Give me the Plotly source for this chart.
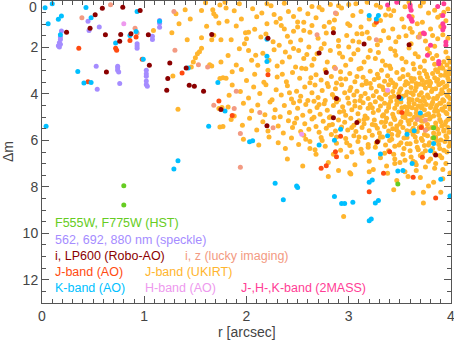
import plotly.graph_objects as go

# magnitude difference (Δm) of companions vs. separation r [arcsec]

hst_r = [0.80, 0.80, 3.48, 3.83, 3.83]
hst_dm = [7.95, 8.78, 7.88, 5.46, 5.89]

speckle_r = [0.19, 0.18, 0.18, 0.17, 0.18, 0.16, 0.17, 0.45, 0.46, 0.56, 0.53, 0.54, 0.76,
             0.74, 0.74, 0.74, 0.75, 0.93, 0.93, 0.93, 1.02, 1.02, 1.02, 1.02, 1.02, 1.03,
             1.08, 1.08, 1.15, 1.15, 1.15]
speckle_dm = [1.29, 1.55, 1.66, 1.80, 1.86, 1.93, 1.98, 0.87, 1.27, 1.12, 2.81, 3.80, 3.55,
              2.81, 2.88, 2.98, 3.06, 1.84, 1.94, 2.03, 2.98, 3.13, 3.24, 3.44, 3.59, 3.67,
              1.52, 1.66, 0.84, 0.96, 1.13]

robo_r = [0.24, 0.47, 0.52, 0.59, 0.79, 0.62, 0.77, 0.76, 0.87, 0.96, 0.63, 1.04, 1.05, 1.25,
          1.23, 1.22, 1.41, 1.44, 1.49, 1.58, 1.66, 1.75, 2.21, 2.85, 3.15, 2.71, 2.78, 3.59,
          2.88, 3.49, 2.85, 3.08, 2.20, 3.28, 3.85]
robo_dm = [1.34, 1.17, 0.59, 0.31, 0.27, 1.45, 1.44, 1.73, 1.41, 0.41, 3.06, 1.45, 2.77, 2.67,
           3.34, 3.84, 2.88, 3.63, 3.67, 3.88, 1.44, 4.67, 1.60, 1.37, 1.85, 2.24, 3.08, 1.88,
           4.20, 4.13, 5.03, 5.23, 5.37, 6.06, 6.63]

lucky_r = [0.39, 0.67, 0.91, 0.93, 1.29, 1.30, 1.53, 1.62, 1.68, 2.69, 2.87, 2.87, 3.27, 3.69,
           1.90, 1.88, 1.94, 2.13, 2.26, 3.67, 3.75, 3.75, 1.94]
lucky_dm = [0.72, 0.16, 1.17, 1.38, 0.45, 2.12, 2.74, 2.84, 4.49, 1.45, 0.52, 2.91, 1.67, 1.55,
            3.88, 4.63, 5.70, 4.80, 5.46, 5.10, 5.13, 5.56, 7.16]

jao_r = [0.36, 0.45, 0.72, 0.73, 0.86, 0.92, 0.98, 1.37, 1.73, 2.21, 1.86, 2.92, 2.87, 2.88,
         2.78, 2.73, 3.40, 3.72, 3.71, 3.52, 3.27, 3.34, 3.20, 3.63, 3.85]
jao_dm = [2.03, 3.48, 2.03, 2.12, 1.70, 1.55, 2.51, 3.10, 4.30, 3.17, 4.93, 5.82, 6.49, 6.70,
          7.09, 7.20, 6.49, 6.73, 5.44, 4.80, 0.91, 7.42, 8.21, 7.59, 8.48]

kao_r = [0.03, 0.10, 0.06, 0.19, 0.16, 0.18, 0.35, 0.41, 0.48, 0.43, 0.48, 0.04, 0.93, 0.92,
         0.86, 0.72, 0.99, 1.15, 1.43, 1.72, 1.63, 1.79, 1.33, 1.29, 2.28, 2.36, 2.49, 2.50,
         2.86, 2.93, 2.96, 3.04, 3.20, 3.23, 3.26, 3.29, 3.20, 3.22, 3.48, 3.90, 3.99, 3.53,
         3.20, 3.27, 3.29, 2.20, 2.20, 2.20, 3.51, 3.70, 2.92, 2.86, 2.71, 2.03, 2.06, 3.38,
         3.57, 3.64, 3.83, 3.80, 3.31, 3.62]
kao_dm = [0.29, 0.12, 0.98, 0.65, 0.79, 1.45, 3.03, 3.53, 3.51, 0.28, 0.72, 5.39, 0.45, 1.31,
          1.48, 1.81, 2.51, 0.87, 2.88, 3.51, 5.39, 4.74, 6.88, 7.23, 7.85, 8.56, 7.96, 8.03,
          8.42, 8.72, 8.72, 8.66, 7.80, 7.70, 8.69, 8.59, 9.46, 9.38, 7.32, 7.67, 8.39, 7.30,
          0.62, 0.77, 0.62, 1.65, 2.38, 2.60, 4.20, 4.82, 5.52, 5.99, 6.20, 6.06, 6.02, 5.80,
          5.74, 5.59, 6.13, 6.45, 6.59, 6.99]

hao_r = [0.80, 2.54, 3.38]
hao_dm = [0.98, 5.74, 3.84]

tmass_r = [3.38, 3.47, 3.60, 3.60, 3.61, 3.59, 3.61, 3.62, 3.87, 3.92, 3.92, 3.93, 3.92, 3.95,
           3.95, 3.74, 3.80, 3.77, 3.88, 3.88, 3.93, 3.73]
tmass_dm = [0.17, 0.05, 0.17, 0.27, 0.40, 0.66, 0.77, 0.87, 0.24, 0.62, 0.98, 1.12, 1.24, 1.77,
            1.91, 1.41, 1.91, 2.34, 2.60, 2.70, 0.12, 1.38]

# J-band (UKIRT): (r, dm), densest at large r
ukirt_pts = [
    (1.09, 1.27), (1.27, 1.37), (1.31, 0.55), (1.34, 0.98), (1.40, 0.38), (1.42, 1.67), (1.45, 0.77),
    (1.50, 2.44), (1.52, 2.27), (1.54, 2.18), (1.56, 2.03), (1.56, 1.58), (1.56, 0.41), (1.60, 0.08),
    (1.61, 1.09), (1.66, 1.67), (1.67, 0.38), (1.68, 0.55), (1.70, 0.66), (1.73, 0.95), (1.74, 0.17),
    (1.75, 1.67), (1.79, 0.05), (1.80, 0.30), (1.68, 1.47), (1.28, 3.23), (1.33, 4.66), (1.46, 2.84),
    (1.48, 2.63), (1.64, 2.74), (1.66, 2.80), (1.75, 2.63),
    (1.93, 0.12), (2.20, 0.12), (2.37, 0.10), (2.64, 0.24), (2.71, 0.27), (2.82, 0.15), (2.90, 0.20),
    (3.00, 0.15), (3.07, 0.12), (3.18, 0.05), (3.31, 0.27), (3.39, 0.34), (3.41, 0.62), (3.48, 0.02),
    (3.59, 0.05), (3.73, 0.05), (3.78, 0.52), (3.90, 0.62), (2.27, 0.58), (2.46, 0.67),
    (1.81, 0.87), (2.02, 1.34), (1.99, 1.37), (2.20, 0.98), (2.29, 0.91), (2.37, 1.20), (2.46, 1.30),
    (2.56, 0.91), (2.56, 1.27), (2.64, 1.05), (2.76, 1.10), (2.81, 0.91), (2.99, 0.98), (3.01, 1.05),
    (3.08, 1.41), (3.13, 1.41), (3.18, 1.34), (3.31, 0.84), (3.43, 1.20), (3.54, 1.12), (3.62, 1.34),
    (3.67, 0.98), (3.72, 0.91), (3.80, 1.20), (3.87, 0.70), (3.93, 0.48), (3.97, 0.34),
    (1.85, 1.67), (1.93, 2.06), (1.98, 1.84), (2.02, 2.13), (2.09, 2.34), (2.11, 2.77), (2.14, 1.55),
    (2.27, 2.10), (2.32, 1.91), (2.35, 2.63), (2.42, 2.41), (2.43, 1.77), (2.48, 2.84), (2.51, 2.13),
    (2.56, 2.48), (2.61, 1.98), (2.64, 2.77), (2.69, 2.27), (2.76, 1.84), (2.79, 2.63), (2.82, 2.13),
    (2.90, 1.70), (2.94, 2.41), (2.97, 2.77), (3.00, 1.98), (3.05, 2.27), (3.10, 1.77), (3.15, 2.63),
    (3.21, 2.13), (3.26, 2.48), (3.31, 1.70), (3.36, 2.77), (3.41, 2.06), (3.46, 2.34), (3.49, 1.55),
    (3.56, 2.63), (3.61, 1.84), (3.65, 2.27), (3.70, 2.84), (3.77, 2.06), (3.82, 2.48), (3.87, 1.63),
    (3.90, 2.77), (3.95, 2.20), (3.99, 2.63), (3.92, 1.45), (3.84, 1.95), (3.68, 1.55), (3.52, 0.78),
    (3.25, 1.02), (2.88, 0.55), (2.52, 0.35), (2.10, 0.68),
    (1.88, 0.42), (1.95, 0.78), (2.06, 0.33), (2.15, 0.52), (2.24, 0.20), (2.33, 0.75), (2.41, 0.45),
    (2.50, 0.90), (2.60, 0.55), (2.68, 0.72), (2.74, 0.38), (2.86, 0.82), (2.93, 0.30), (3.04, 0.62),
    (3.12, 0.45), (3.20, 0.78), (3.27, 0.18), (3.36, 0.60), (3.44, 0.42), (3.55, 0.25), (3.62, 0.68),
    (3.70, 0.22), (3.84, 0.40), (3.95, 0.85),
    (1.90, 1.08), (2.00, 1.62), (2.08, 1.22), (2.19, 1.42), (2.26, 1.75), (2.34, 1.05), (2.40, 1.52),
    (2.50, 1.12), (2.53, 1.68), (2.62, 1.35), (2.70, 1.60), (2.78, 1.38), (2.85, 1.18), (2.90, 1.95),
    (2.98, 1.48), (3.04, 1.72), (3.12, 1.12), (3.20, 1.60), (3.28, 1.88), (3.34, 1.28), (3.39, 1.58),
    (3.46, 1.75), (3.56, 1.50), (3.60, 1.18), (3.70, 1.42), (3.75, 1.72), (3.82, 1.48), (3.90, 1.10),
    (3.97, 1.60),
    (1.82, 2.35), (1.90, 2.75), (2.05, 2.55), (2.16, 2.25), (2.22, 2.55), (2.30, 2.80), (2.38, 2.20),
    (2.46, 2.05), (2.54, 2.90), (2.59, 2.30), (2.66, 2.50), (2.73, 2.05), (2.86, 2.85), (2.91, 2.25),
    (3.02, 2.52), (3.09, 2.10), (3.12, 2.90), (3.19, 2.42), (3.29, 2.22), (3.33, 2.58), (3.40, 2.80),
    (3.45, 2.15), (3.52, 2.48), (3.59, 2.02), (3.63, 2.70), (3.68, 2.40), (3.74, 2.58), (3.79, 2.25),
    (3.86, 2.35), (3.92, 2.90), (3.97, 2.45),
    (1.86, 3.05), (1.95, 2.95), (2.00, 3.42), (2.08, 3.15), (2.17, 3.50), (2.21, 2.98), (2.30, 3.27),
    (2.39, 3.48), (2.45, 3.08), (2.52, 3.33), (2.58, 2.92), (2.62, 3.52), (2.68, 3.18), (2.73, 3.40),
    (2.77, 2.96), (2.83, 3.25), (2.88, 3.53), (2.92, 3.05), (2.97, 3.36), (3.01, 3.12), (3.06, 3.48),
    (3.10, 2.93), (3.14, 3.28), (3.17, 3.55), (3.21, 3.02), (3.25, 3.38), (3.28, 3.15), (3.32, 2.98),
    (3.35, 3.45), (3.38, 3.22), (3.41, 2.91), (3.43, 3.52), (3.47, 3.08), (3.50, 3.35), (3.53, 2.95),
    (3.56, 3.48), (3.58, 3.18), (3.61, 3.32), (3.64, 2.93), (3.66, 3.55), (3.69, 3.10), (3.72, 3.42),
    (3.74, 3.00), (3.77, 3.28), (3.80, 3.52), (3.82, 3.12), (3.85, 2.96), (3.87, 3.38), (3.90, 3.20),
    (3.92, 3.50), (3.95, 3.05), (3.97, 3.33), (3.99, 2.92), (3.89, 2.88), (3.96, 2.75), (3.93, 2.62),
    (3.98, 3.15), (3.84, 2.72),
    (1.74, 3.34), (1.77, 3.30), (1.80, 3.32), (1.83, 4.06), (1.86, 3.62), (1.94, 3.90), (2.02, 4.18),
    (2.07, 3.70), (2.13, 3.98), (2.19, 3.60), (2.25, 4.25), (2.29, 3.82), (2.34, 4.05), (2.40, 3.65),
    (2.44, 4.22), (2.49, 3.88), (2.53, 4.10), (2.57, 3.70), (2.60, 4.28), (2.64, 3.95), (2.67, 3.62),
    (2.70, 4.15), (2.74, 3.85), (2.77, 4.28), (2.80, 3.68), (2.84, 4.02), (2.87, 3.78), (2.90, 4.25),
    (2.93, 3.60), (2.96, 3.95), (2.99, 4.18), (3.02, 3.72), (3.05, 4.05), (3.08, 3.88), (3.11, 4.28),
    (3.13, 3.62), (3.16, 3.98), (3.19, 4.20), (3.22, 3.75), (3.24, 4.08), (3.27, 3.90), (3.30, 3.65),
    (3.32, 4.22), (3.34, 3.82), (3.36, 4.02), (3.39, 3.60), (3.41, 4.15), (3.43, 3.90), (3.45, 3.70),
    (3.47, 4.28), (3.49, 3.98), (3.51, 3.78), (3.53, 4.10), (3.55, 3.62), (3.57, 3.92), (3.59, 4.22),
    (3.61, 3.72), (3.63, 4.02), (3.65, 3.85), (3.67, 4.25), (3.69, 3.58), (3.71, 3.95), (3.73, 4.15),
    (3.75, 3.75), (3.77, 4.05), (3.79, 3.65), (3.81, 3.90), (3.83, 4.20), (3.85, 3.78), (3.87, 4.10),
    (3.88, 3.60), (3.90, 3.98), (3.92, 4.25), (3.94, 3.70), (3.96, 4.05), (3.98, 3.85), (3.99, 4.20),
    (3.86, 3.45), (3.91, 3.82), (3.76, 3.50), (3.62, 3.45),
    (1.73, 4.63), (1.76, 4.58), (1.82, 4.56), (1.88, 4.95), (1.97, 4.40), (2.05, 4.72), (2.11, 4.48),
    (2.18, 4.90), (2.23, 4.35), (2.28, 4.68), (2.33, 4.98), (2.37, 4.50), (2.42, 4.80), (2.46, 4.38),
    (2.50, 4.62), (2.55, 4.92), (2.58, 4.45), (2.62, 4.75), (2.66, 4.32), (2.69, 4.58), (2.72, 4.88),
    (2.76, 4.42), (2.79, 4.70), (2.82, 4.98), (2.85, 4.50), (2.88, 4.35), (2.91, 4.78), (2.94, 4.55),
    (2.97, 4.92), (3.00, 4.40), (3.03, 4.68), (3.06, 4.32), (3.09, 4.85), (3.11, 4.58), (3.14, 4.38),
    (3.16, 4.95), (3.19, 4.62), (3.21, 4.45), (3.24, 4.80), (3.26, 4.34), (3.29, 4.70), (3.31, 4.52),
    (3.33, 4.95), (3.35, 4.40), (3.37, 4.75), (3.39, 4.58), (3.41, 4.32), (3.43, 4.88), (3.45, 4.62),
    (3.47, 4.45), (3.49, 4.78), (3.51, 4.35), (3.53, 4.98), (3.55, 4.55), (3.57, 4.72), (3.59, 4.38),
    (3.60, 4.88), (3.62, 4.60), (3.64, 4.42), (3.66, 4.82), (3.68, 4.52), (3.70, 4.32), (3.72, 4.95),
    (3.74, 4.68), (3.76, 4.45), (3.78, 4.85), (3.80, 4.58), (3.82, 4.36), (3.84, 4.75), (3.86, 4.50),
    (3.88, 4.92), (3.90, 4.40), (3.92, 4.70), (3.94, 4.55), (3.96, 4.85), (3.98, 4.42), (3.99, 4.65),
    (3.71, 4.60), (3.58, 4.85), (3.85, 4.62),
    (1.74, 5.42), (1.77, 5.40), (1.85, 5.10), (1.96, 5.35), (2.03, 5.05), (2.10, 5.55), (2.16, 5.20),
    (2.21, 5.60), (2.27, 5.02), (2.31, 5.38), (2.36, 5.68), (2.41, 5.15), (2.45, 5.45), (2.49, 5.05),
    (2.53, 5.62), (2.57, 5.28), (2.61, 5.52), (2.64, 5.08), (2.68, 5.40), (2.71, 5.65), (2.75, 5.18),
    (2.78, 5.48), (2.81, 5.02), (2.84, 5.32), (2.87, 5.60), (2.90, 5.12), (2.93, 5.42), (2.96, 5.22),
    (2.99, 5.55), (3.02, 5.05), (3.05, 5.35), (3.07, 5.62), (3.10, 5.15), (3.13, 5.45), (3.15, 5.28),
    (3.18, 5.05), (3.20, 5.58), (3.23, 5.32), (3.25, 5.12), (3.28, 5.48), (3.30, 5.68), (3.32, 5.22),
    (3.35, 5.40), (3.37, 5.05), (3.39, 5.60), (3.41, 5.30), (3.43, 5.50), (3.45, 5.10), (3.47, 5.38),
    (3.49, 5.65), (3.51, 5.20), (3.53, 5.45), (3.55, 5.02), (3.57, 5.58), (3.59, 5.30), (3.61, 5.12),
    (3.63, 5.48), (3.65, 5.28), (3.67, 5.62), (3.69, 5.05), (3.71, 5.38), (3.73, 5.18), (3.75, 5.55),
    (3.77, 5.32), (3.79, 5.08), (3.81, 5.45), (3.83, 5.68), (3.85, 5.25), (3.87, 5.52), (3.89, 5.10),
    (3.91, 5.38), (3.93, 5.60), (3.95, 5.20), (3.97, 5.45), (3.99, 5.05), (3.94, 5.32),
    (1.97, 5.95), (2.12, 6.20), (2.22, 5.85), (2.31, 6.10), (2.38, 6.35), (2.44, 5.90), (2.51, 6.18),
    (2.56, 5.78), (2.62, 6.05), (2.67, 6.40), (2.73, 5.88), (2.77, 6.25), (2.83, 5.75), (2.88, 6.12),
    (2.92, 6.42), (2.97, 5.92), (3.01, 6.22), (3.05, 5.80), (3.09, 6.05), (3.12, 6.38), (3.16, 5.88),
    (3.19, 6.18), (3.23, 5.78), (3.26, 6.30), (3.29, 6.02), (3.33, 5.85), (3.36, 6.20), (3.39, 6.45),
    (3.42, 5.95), (3.45, 6.25), (3.48, 5.78), (3.51, 6.10), (3.54, 6.35), (3.57, 5.88), (3.60, 6.15),
    (3.63, 5.75), (3.66, 6.05), (3.68, 6.40), (3.71, 5.92), (3.74, 6.22), (3.77, 5.80), (3.79, 6.10),
    (3.82, 6.35), (3.85, 5.85), (3.88, 6.18), (3.90, 5.98), (3.93, 6.42), (3.96, 5.88), (3.98, 6.25),
    (3.21, 3.55), (3.23, 4.60), (3.26, 5.35), (3.27, 6.10), (3.29, 3.30), (3.30, 4.15), (3.31, 5.85),
    (3.33, 3.70), (3.34, 4.90), (3.35, 6.55), (3.36, 5.20), (3.38, 3.95), (3.39, 4.45), (3.40, 6.00),
    (3.41, 3.40), (3.42, 5.75), (3.44, 4.10), (3.44, 5.00), (3.45, 6.80), (3.46, 3.60), (3.47, 5.55),
    (3.48, 4.30), (3.49, 6.20), (3.50, 3.85), (3.50, 5.30), (3.52, 4.60), (3.53, 6.60), (3.53, 3.25),
    (3.54, 5.90), (3.55, 4.85), (3.56, 4.05), (3.57, 6.15), (3.58, 3.55), (3.58, 5.15), (3.59, 4.55),
    (3.60, 6.45), (3.61, 3.95), (3.61, 5.60), (3.62, 4.25), (3.63, 6.90), (3.64, 3.35), (3.64, 5.00),
    (3.65, 5.85), (3.66, 4.65), (3.66, 3.70), (3.67, 6.30), (3.68, 4.95), (3.69, 5.45), (3.69, 4.05),
    (3.70, 6.65), (3.70, 3.30), (3.71, 5.15), (3.72, 4.50), (3.72, 6.00), (3.73, 3.60), (3.74, 5.75),
    (3.74, 4.30), (3.75, 6.45), (3.76, 4.90), (3.76, 3.15), (3.77, 5.50), (3.78, 4.15), (3.78, 6.20),
    (3.79, 3.45), (3.80, 5.00), (3.80, 6.80), (3.81, 4.45), (3.82, 5.90), (3.82, 3.80), (3.83, 4.95),
    (3.84, 6.55), (3.84, 3.30), (3.85, 5.40), (3.86, 4.20), (3.86, 6.00), (3.87, 4.75), (3.87, 3.05),
    (3.88, 5.70), (3.89, 4.40), (3.89, 6.35), (3.90, 3.55), (3.90, 5.20), (3.91, 4.65), (3.91, 6.75),
    (3.92, 3.95), (3.93, 5.55), (3.93, 4.30), (3.94, 6.05), (3.94, 3.20), (3.95, 4.80), (3.95, 5.80),
    (3.96, 3.65), (3.96, 6.50), (3.97, 4.10), (3.97, 5.10), (3.98, 3.45), (3.98, 5.65), (3.99, 4.50),
    (3.99, 6.10), (3.99, 3.00), (3.85, 7.00), (3.75, 7.15), (3.65, 6.95), (3.92, 7.25), (3.55, 6.85),
    (3.45, 7.00),
    (2.35, 3.15), (2.42, 3.95), (2.47, 5.25), (2.52, 4.30), (2.58, 5.95), (2.63, 3.30), (2.66, 5.00),
    (2.71, 4.45), (2.74, 6.00), (2.79, 3.55), (2.81, 5.35), (2.86, 4.15), (2.88, 5.85), (2.92, 3.35),
    (2.95, 4.75), (2.98, 6.10), (3.01, 3.85), (3.03, 5.45), (3.06, 4.52), (3.08, 3.25), (3.10, 5.85),
    (3.12, 4.10), (3.15, 5.10), (3.17, 3.45), (3.19, 6.30), (3.03, 6.50), (2.85, 6.60), (2.62, 6.35),
    (2.40, 6.80), (2.55, 7.10), (2.68, 6.60), (2.80, 6.95), (2.90, 7.30), (2.98, 6.70), (3.06, 7.05),
    (3.13, 6.55), (3.20, 6.90), (3.24, 7.25), (3.31, 6.75), (3.37, 7.10), (3.44, 6.60), (3.50, 6.95),
    (3.55, 7.35), (3.61, 6.72), (3.66, 7.05), (3.72, 6.58), (3.78, 6.90), (3.84, 7.20), (3.89, 6.65),
    (3.95, 7.00), (3.99, 7.40), (2.80, 7.56), (3.01, 7.39), (3.02, 7.45), (3.20, 7.35), (3.38, 7.42),
    (3.47, 7.73), (3.44, 8.13), (3.63, 8.27), (3.73, 8.23), (3.73, 8.70), (3.78, 7.96), (3.90, 8.23),
    (2.95, 9.28), (3.58, 7.55), (3.70, 7.60), (3.83, 7.80), (3.92, 7.65), (3.66, 7.30),
]
ukirt_r = [p[0] for p in ukirt_pts]
ukirt_dm = [p[1] for p in ukirt_pts]

# legend text, colour, position (r, dm of the left edge)
labels = [
    ("F555W, F775W (HST)", "#66cc22", 0.11, 9.55),
    ("562, 692, 880 nm (speckle)", "#a58cff", 0.11, 10.28),
    ("i, LP600 (Robo-AO)", "#8b0000", 0.11, 10.97),
    ("i, z (lucky imaging)", "#f39a82", 1.38, 10.97),
    ("J-band (AO)", "#ff4a10", 0.11, 11.65),
    ("J-band (UKIRT)", "#ffb52e", 0.99, 11.65),
    ("K-band (AO)", "#00bfff", 0.11, 12.34),
    ("H-band (AO)", "#ee99ee", 0.99, 12.34),
    ("J-,H-,K-band (2MASS)", "#ff3d96", 1.93, 12.34),
]

series = [
    (ukirt_r, ukirt_dm, "#ffb52e"),
    (speckle_r, speckle_dm, "#a58cff"),
    (lucky_r, lucky_dm, "#f39a82"),
    (jao_r, jao_dm, "#ff4a10"),
    (kao_r, kao_dm, "#00bfff"),
    (hao_r, hao_dm, "#ee99ee"),
    (tmass_r, tmass_dm, "#ff3d96"),
    (robo_r, robo_dm, "#8b0000"),
    (hst_r, hst_dm, "#66cc22"),
]

fig = go.Figure()
for xs, ys, col in series:
    fig.add_trace(go.Scatter(x=xs, y=ys, mode="markers",
                             marker=dict(color=col, size=5, line=dict(width=0)),
                             showlegend=False, cliponaxis=True))

for txt, col, x, y in labels:
    fig.add_annotation(x=x, y=y, text=txt, showarrow=False, xanchor="left", yanchor="middle",
                       font=dict(family="Liberation Sans", size=12.5, color=col))

axcol = "#555555"
fig.update_layout(
    width=454, height=343,
    margin=dict(l=42, r=3, t=1, b=40),
    plot_bgcolor="#ffffff", paper_bgcolor="#ffffff",
    font=dict(family="Liberation Sans", size=14, color="#444444"),
)
fig.update_xaxes(range=[0, 4], dtick=1, tick0=0, ticks="inside", ticklen=7, tickcolor=axcol,
                 showline=True, linecolor=axcol, linewidth=1, mirror="allticks",
                 showgrid=False, zeroline=False, automargin=False,
                 ticklabeloverflow="allow",
                 minor=dict(dtick=0.1, ticks="inside", ticklen=4, tickcolor=axcol, showgrid=False))
fig.update_yaxes(range=[13, 0], tickvals=[2, 4, 6, 8, 10, 12], ticks="inside", ticklen=7,
                 tickcolor=axcol, showline=True, linecolor=axcol, linewidth=1, mirror="allticks",
                 showgrid=False, zeroline=False, automargin=False, ticklabeloverflow="allow",
                 minor=dict(tick0=0, dtick=0.5, ticks="inside", ticklen=4, tickcolor=axcol,
                            showgrid=False))

# the top "0" of the Δm axis sits just under the frame
fig.add_annotation(xref="paper", yref="paper", x=0, xshift=-3, y=1, yshift=-6, text="0",
                   xanchor="right", yanchor="middle", showarrow=False,
                   font=dict(size=14, color="#444444"))
fig.add_annotation(xref="paper", yref="paper", x=0.5, y=0, yshift=-29, text="r [arcsec]",
                   xanchor="center", yanchor="middle", showarrow=False,
                   font=dict(size=14, color="#444444"))
fig.add_annotation(xref="paper", yref="paper", x=0, xshift=-34, y=0.5, text="Δm", textangle=-90,
                   xanchor="center", yanchor="middle", showarrow=False,
                   font=dict(size=14, color="#444444"))

# drop the page's default 8px body margin so the figure sits at the window's corner
fig.write_html("out.html", config={"displayModeBar": False},
               post_script="document.body.style.margin='0';")
